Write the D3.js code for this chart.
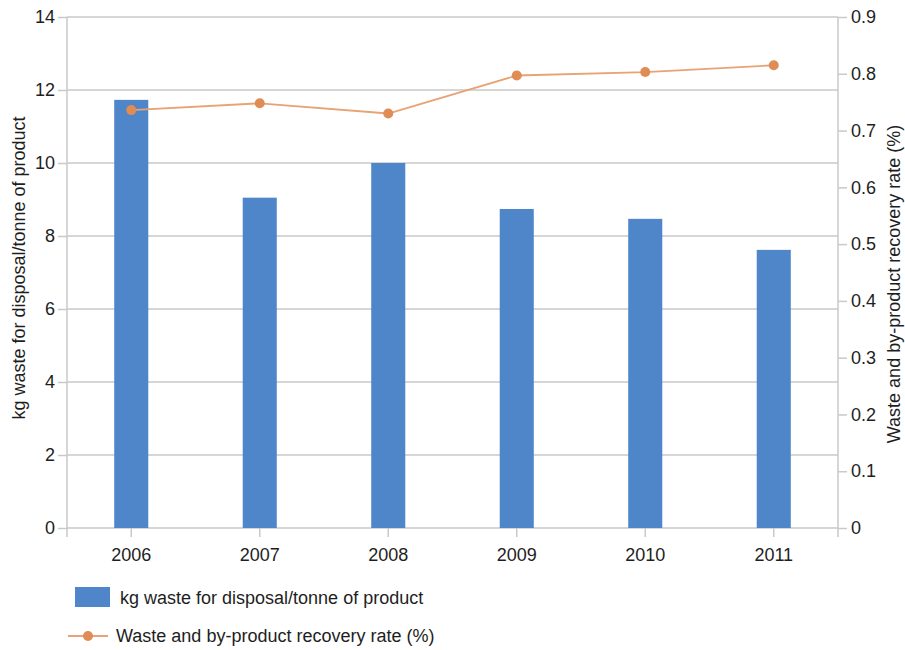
<!DOCTYPE html>
<html>
<head>
<meta charset="utf-8">
<script src="https://cdn.jsdelivr.net/npm/d3@7"></script>
<style>
  body { margin: 0; background: #fff; }
  text { font-family: "Liberation Sans", Arial, sans-serif; fill: #1e1e1e; }
</style>
</head>
<body>
<div id="chart"></div>
<script>
// data
var years = ['2006', '2007', '2008', '2009', '2010', '2011'];
var wasteKg = [11.73, 9.05, 10.0, 8.74, 8.47, 7.62];
var recoveryRate = [0.736, 0.748, 0.730, 0.797, 0.803, 0.815];
var leftTicks = [0, 2, 4, 6, 8, 10, 12, 14];
var rightTicks = [0, 0.1, 0.2, 0.3, 0.4, 0.5, 0.6, 0.7, 0.8, 0.9];
var barLabel = 'kg waste for disposal/tonne of product';
var lineLabel = 'Waste and by-product recovery rate (%)';

var margin = {top: 17, bottom: 122, right: 67, left: 67};
var W = 905, H = 650;
var w = W - margin.left - margin.right;
var h = H - margin.top - margin.bottom;
var fs = '18px';

var barColor = '#4f86c9';
var lineColor = '#e9a273';
var dotColor = '#e08c55';
var gridColor = '#c9c9c9';

var svg = d3.select('#chart')
    .append('svg')
    .attr('width', W)
    .attr('height', H);

var g = svg.append('g')
    .attr('transform', 'translate(' + margin.left + ',' + margin.top + ')');

var x = d3.scaleBand()
    .domain(years)
    .range([0, w])
    .paddingInner(0.735)
    .paddingOuter(0.3675);

var y = d3.scaleLinear().domain([0, 14]).range([h, 0]);
var y2 = d3.scaleLinear().domain([0, 0.9]).range([h, 0]);

function cx(d) { return x(d) + x.bandwidth() / 2; }

// gridlines
g.selectAll('.grid')
    .data(leftTicks)
    .enter()
    .append('line')
    .attr('x1', 0)
    .attr('x2', w)
    .attr('y1', function(d) { return y(d); })
    .attr('y2', function(d) { return y(d); })
    .attr('stroke', gridColor)
    .attr('stroke-width', 1.5);

// left axis
var leftAx = g.append('g')
    .call(d3.axisLeft(y).tickValues(leftTicks).tickSize(9).tickPadding(3).tickSizeOuter(0));
leftAx.select('.domain').remove();
leftAx.append('line')
    .attr('x1', 0).attr('x2', 0)
    .attr('y1', 0).attr('y2', h + 9)
    .attr('stroke', gridColor).attr('stroke-width', 1.5);

// right axis
var rightAx = g.append('g')
    .attr('transform', 'translate(' + w + ',0)')
    .call(d3.axisRight(y2).tickValues(rightTicks).tickSize(9).tickPadding(4)
        .tickFormat(function(d) { return d === 0 ? '0' : d3.format('.1f')(d); }));
rightAx.select('.domain').remove();
rightAx.append('line')
    .attr('x1', 0).attr('x2', 0)
    .attr('y1', 0).attr('y2', h + 9)
    .attr('stroke', gridColor).attr('stroke-width', 1.5);

// bottom axis
var bottomAx = g.append('g')
    .attr('transform', 'translate(0,' + h + ')')
    .call(d3.axisBottom(x).tickSize(9).tickPadding(11).tickSizeOuter(0));
bottomAx.select('.domain').remove();

[leftAx, rightAx, bottomAx].forEach(function(a) {
    a.selectAll('.tick line').attr('stroke', gridColor).attr('stroke-width', 1.5);
    a.selectAll('.tick text')
        .style('font-size', fs)
        .style('font-family', '"Liberation Sans", Arial, sans-serif')
        .attr('fill', '#1e1e1e');
});

// bars
g.selectAll('.bar')
    .data(years)
    .enter()
    .append('rect')
    .attr('class', 'bar')
    .attr('x', function(d) { return x(d); })
    .attr('width', x.bandwidth())
    .attr('y', function(d, i) { return y(wasteKg[i]); })
    .attr('height', function(d, i) { return h - y(wasteKg[i]); })
    .attr('fill', barColor);

// line + dots
var line = d3.line()
    .x(function(d) { return cx(d); })
    .y(function(d, i) { return y2(recoveryRate[i]); });

g.append('path')
    .datum(years)
    .attr('d', line)
    .attr('fill', 'none')
    .attr('stroke', lineColor)
    .attr('stroke-width', 1.8);

g.selectAll('.dot')
    .data(years)
    .enter()
    .append('circle')
    .attr('cx', function(d) { return cx(d); })
    .attr('cy', function(d, i) { return y2(recoveryRate[i]); })
    .attr('r', 5)
    .attr('fill', dotColor);

// axis titles
svg.append('text')
    .attr('transform', 'translate(25,' + 268 + ') rotate(-90)')
    .attr('text-anchor', 'middle')
    .style('font-size', fs)
    .text(barLabel);

svg.append('text')
    .attr('transform', 'translate(900,' + 284 + ') rotate(-90)')
    .attr('text-anchor', 'middle')
    .style('font-size', fs)
    .text(lineLabel);

// legend
var leg = svg.append('g');
leg.append('rect')
    .attr('x', 75).attr('y', 587)
    .attr('width', 35).attr('height', 20)
    .attr('fill', barColor);
leg.append('text')
    .attr('x', 120).attr('y', 604)
    .style('font-size', fs)
    .text(barLabel);

leg.append('line')
    .attr('x1', 68).attr('x2', 108)
    .attr('y1', 636).attr('y2', 636)
    .attr('stroke', lineColor).attr('stroke-width', 1.8);
leg.append('circle')
    .attr('cx', 88).attr('cy', 636).attr('r', 5)
    .attr('fill', dotColor);
leg.append('text')
    .attr('x', 116).attr('y', 642)
    .style('font-size', fs)
    .text(lineLabel);
</script>
</body>
</html>
